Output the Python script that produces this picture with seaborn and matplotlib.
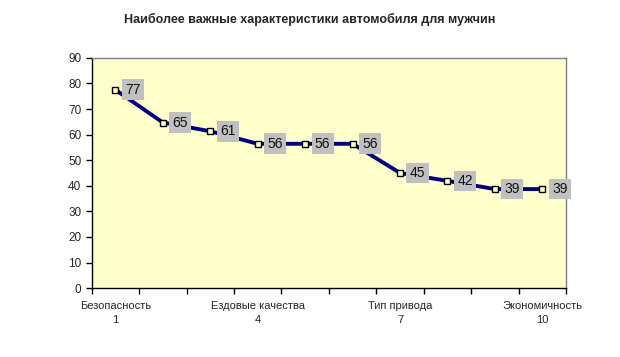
import matplotlib
matplotlib.use("Agg")
import matplotlib.pyplot as plt
import seaborn as sns
import pandas as pd

# Данные
positions = list(range(1, 11))
values = [77.5, 64.7, 61.3, 56.4, 56.4, 56.4, 45.0, 41.9, 38.7, 38.7]
label_values = [77, 65, 61, 56, 56, 56, 45, 42, 39, 39]
tick_names = ["Безопасность", "Ездовые качества", "Тип привода", "Экономичность"]
tick_positions = [1, 4, 7, 10]

df = pd.DataFrame({"pos": positions, "val": values})

sns.set_style("white")
plt.rcParams["font.family"] = ["Liberation Sans", "DejaVu Sans"]

fig = plt.figure(figsize=(6.2, 3.57), dpi=100)
ax = fig.add_axes([0.148, 0.193, 0.765, 0.645])
ax.set_facecolor("#FFFFCC")

sns.lineplot(data=df, x="pos", y="val", ax=ax, color="#000080", linewidth=2.8,
             marker="s", markersize=4.5, markerfacecolor="#FFFFCC",
             markeredgecolor="black", markeredgewidth=1)

# подписи данных
for x, y, lab in zip(positions, values, label_values):
    ax.annotate(str(lab), (x, y), xytext=(7, 0), textcoords="offset points",
                ha="left", va="center", fontsize=10, color="#111111",
                bbox=dict(boxstyle="square,pad=0.24", facecolor="#C0C0C0", edgecolor="none"))

ax.set_xlim(0.5, 10.5)
ax.set_ylim(0, 90)
ax.set_yticks(range(0, 91, 10))
ax.set_xticks([p - 0.5 for p in positions] + [10.5], minor=True)
ax.set_xticks(tick_positions)
ax.set_xticklabels([f"{n}\n{p}" for n, p in zip(tick_names, tick_positions)],
                   fontsize=8, linespacing=1.5)
ax.tick_params(axis="x", which="major", length=0, pad=9)
ax.tick_params(axis="x", which="minor", length=4, width=1, direction="out", color="black", bottom=True)
ax.tick_params(axis="y", length=4, width=1, direction="out", color="black", left=True, labelsize=8.5)
ax.set_xlabel("")
ax.set_ylabel("")

for s in ["left", "bottom"]:
    ax.spines[s].set_color("black")
    ax.spines[s].set_linewidth(1)
for s in ["top", "right"]:
    ax.spines[s].set_color("#808080")
    ax.spines[s].set_linewidth(1)

fig.suptitle("Наиболее важные характеристики автомобиля для мужчин",
             x=0.5, y=0.965, fontsize=9, fontweight="bold")

fig.savefig("out.png", dpi=100)
